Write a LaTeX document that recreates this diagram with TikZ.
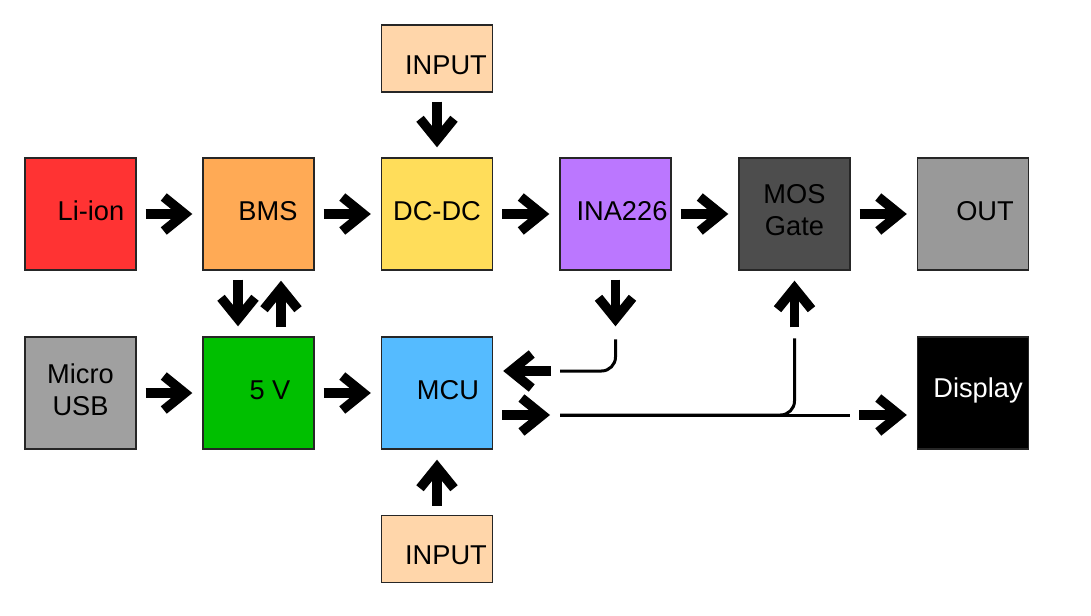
\documentclass[tikz,border=0pt]{standalone}
\usepackage{fontspec}
\setmainfont{Liberation Sans}
\usetikzlibrary{arrows.meta, positioning, calc}
\definecolor{liionred}{RGB}{255,51,51}
\definecolor{bmsorange}{RGB}{255,170,85}
\definecolor{dcyellow}{RGB}{255,221,90}
\definecolor{inapurple}{RGB}{187,119,255}
\definecolor{mosgray}{RGB}{77,77,77}
\definecolor{outgray}{RGB}{153,153,153}
\definecolor{usbgray}{RGB}{160,160,160}
\definecolor{fivegreen}{RGB}{0,191,0}
\definecolor{mcublue}{RGB}{85,187,255}
\definecolor{inpeach}{RGB}{255,214,170}

\begin{document}
\begin{tikzpicture}[x=0.02cm, y=-0.02cm,
  blk/.style={rectangle, draw=black!85, line width=0.8pt, fill=#1,
              minimum width=2.22cm, minimum height=2.24cm, inner sep=0pt},
  inbox/.style={blk=#1, minimum height=1.34cm},
  bigarr/.style={line width=0.19cm, -{Straight Barb[length=0.42cm, width=0.68cm]},
                 shorten <=0.18cm, shorten >=0.2cm},
  wire/.style={line width=0.06cm, rounded corners=0.28cm},
  every label/.style={font=\fontsize{15.5}{18}\selectfont, align=center},
]
  \useasboundingbox (0,0) rectangle (1091,615);

  % power path
  \node[blk=liionred,  label={[xshift=0.21cm,yshift=0.06cm]center:Li-ion}] (liion) at (80.5,214) {};
  \node[blk=bmsorange, label={[xshift=0.19cm,yshift=0.06cm]center:BMS}]    (bms)   at (258.5,214) {};
  \node[blk=dcyellow,  label={[yshift=0.06cm]center:DC-DC}]                (dcdc)  at (437,214) {};
  \node[blk=inapurple, label={[xshift=0.13cm,yshift=0.06cm]center:INA226}] (ina)   at (615.5,214) {};
  \node[blk=mosgray,   label={[yshift=0.08cm]center:MOS\\Gate}]            (mos)   at (794.5,214) {};
  \node[blk=outgray,   label={[xshift=0.24cm,yshift=0.06cm]center:OUT}]    (out)   at (973,214) {};

  % control side
  \node[blk=usbgray,   label={[yshift=0.06cm]center:Micro\\USB}]           (usb)   at (80.5,393) {};
  \node[blk=fivegreen, label={[xshift=0.23cm,yshift=0.06cm]center:5 V}]    (fivev) at (258.5,393) {};
  \node[blk=mcublue,   label={[xshift=0.22cm,yshift=0.06cm]center:MCU}]    (mcu)   at (437,393) {};
  \node[blk=black,     label={[xshift=0.1cm,yshift=0.06cm,text=white]center:Display}] (disp) at (973,393) {};

  \node[inbox=inpeach, label={[xshift=0.18cm,yshift=-0.13cm]center:INPUT}] (intop) at (437,58.5) {};
  \node[inbox=inpeach, label={[xshift=0.18cm,yshift=-0.13cm]center:INPUT}] (inbot) at (437,549) {};

  \draw[bigarr] (liion) -- (bms);
  \draw[bigarr] (bms) -- (dcdc);
  \draw[bigarr] (dcdc) -- (ina);
  \draw[bigarr] (ina) -- (mos);
  \draw[bigarr] (mos) -- (out);
  \draw[bigarr] (usb) -- (fivev);
  \draw[bigarr] (fivev) -- (mcu);
  \draw[bigarr] (intop) -- (dcdc);
  \draw[bigarr] (inbot) -- (mcu);
  \draw[bigarr] ([xshift=-0.41cm]bms.south) -- ([xshift=-0.41cm]fivev.north);
  \draw[bigarr] ([xshift=0.45cm]fivev.north) -- ([xshift=0.45cm]bms.south);

  % measurement back to MCU
  \coordinate (inaj) at (ina.south |- mcu.north);
  \coordinate (ret) at (560,371);
  \draw[bigarr] (ina) -- (inaj);
  \draw[wire] ([yshift=-0.06cm]inaj) |- (ret);
  \draw[bigarr] (ret) -- (ret -| mcu.east);

  % MCU outputs
  \coordinate (fwd) at (560,415);
  \coordinate (dispin) at (850,415);
  \coordinate (mosj) at (mos.south |- mcu.north);
  \draw[bigarr] (fwd -| mcu.east) -- (fwd);
  \draw[wire] (fwd) -- (dispin);
  \draw[bigarr] (dispin) -- (dispin -| disp.west);
  \draw[wire] ([yshift=-0.04cm]mosj) |- (fwd);
  \draw[bigarr] (mosj) -- (mos);
\end{tikzpicture}
\end{document}
